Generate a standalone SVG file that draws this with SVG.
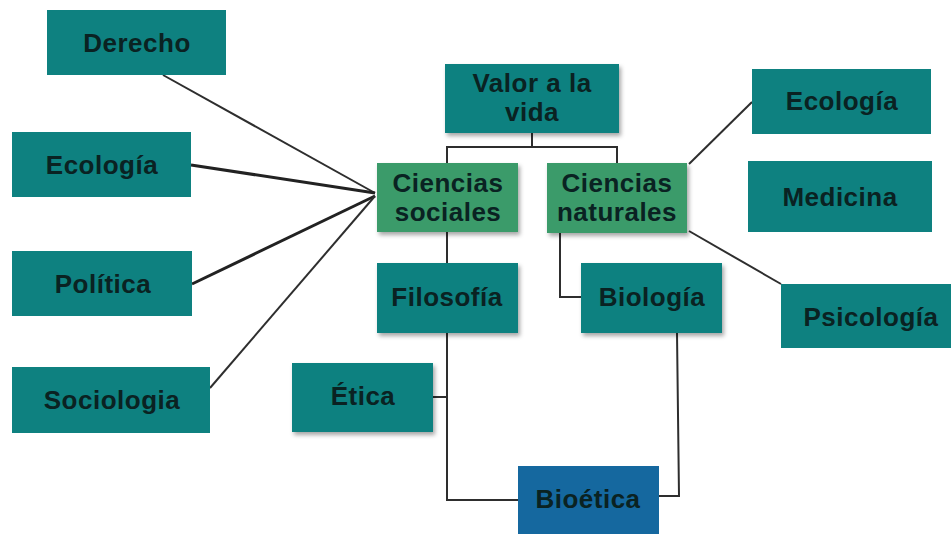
<svg xmlns="http://www.w3.org/2000/svg" width="951" height="534" viewBox="0 0 951 534">
<style>
.teal{fill:#0E8180}
.green{fill:#3A9B6B}
.blue{fill:#15689F}
text{font-family:"Liberation Sans",Arial,sans-serif;font-weight:bold;font-size:26px;letter-spacing:0.5px;fill:#0A2222;text-anchor:middle}
.ln{stroke:#2E2E2E;stroke-width:2;fill:none}
.lnb{stroke:#222;stroke-width:3;fill:none}
</style>
<defs>
<filter id="sh" x="-10%" y="-10%" width="130%" height="130%">
<feDropShadow dx="2" dy="3" stdDeviation="2" flood-color="#000" flood-opacity="0.35"/>
</filter>
</defs>
<rect width="951" height="534" fill="#fff"/>
<g id="connectors">
<polyline class="ln" points="532,133 532,147"/>
<polyline class="ln" points="447,163 447,147 617,147 617,163"/>
<line class="ln" x1="163" y1="75" x2="375" y2="193"/>
<line class="lnb" x1="191" y1="165" x2="375" y2="193"/>
<line class="lnb" x1="192" y1="284" x2="375" y2="196"/>
<line class="ln" x1="210" y1="388" x2="375" y2="196"/>
<line class="ln" x1="689" y1="164" x2="752" y2="102"/>
<line class="ln" x1="689" y1="231" x2="781" y2="284"/>
<line class="ln" x1="447" y1="232" x2="447" y2="263"/>
<polyline class="ln" points="560,233 560,297 581,297"/>
<polyline class="ln" points="447,333 447,500 518,500"/>
<line class="ln" x1="433" y1="397" x2="447" y2="397"/>
<polyline class="ln" points="677,333 679,496 659,496"/>
</g>
<g id="derecho"><rect class="teal" x="47" y="10" width="179" height="65"/><text x="137" y="52">Derecho</text></g>
<g id="ecologia-izq"><rect class="teal" x="12" y="132" width="179" height="65"/><text x="102" y="174">Ecología</text></g>
<g id="politica"><rect class="teal" x="12" y="251" width="180" height="65"/><text x="103" y="293">Política</text></g>
<g id="sociologia"><rect class="teal" x="12" y="367" width="198" height="66"/><text x="112" y="409">Sociologia</text></g>
<g id="valor"><rect class="teal" x="445" y="64" width="174" height="69" filter="url(#sh)"/><text x="532" y="92">Valor a la</text><text x="532" y="121">vida</text></g>
<g id="ciencias-sociales"><rect class="green" x="377" y="163" width="141" height="69" filter="url(#sh)"/><text x="448" y="192">Ciencias</text><text x="448" y="221">sociales</text></g>
<g id="ciencias-naturales"><rect class="green" x="547" y="163" width="140" height="70" filter="url(#sh)"/><text x="617" y="192">Ciencias</text><text x="617" y="221">naturales</text></g>
<g id="ecologia-der"><rect class="teal" x="752" y="69" width="179" height="65"/><text x="842" y="110">Ecología</text></g>
<g id="medicina"><rect class="teal" x="748" y="161" width="184" height="71"/><text x="840" y="206">Medicina</text></g>
<g id="psicologia"><rect class="teal" x="781" y="284" width="170" height="64"/><text x="871" y="326">Psicología</text></g>
<g id="filosofia"><rect class="teal" x="377" y="263" width="141" height="70" filter="url(#sh)"/><text x="447" y="306">Filosofía</text></g>
<g id="biologia"><rect class="teal" x="581" y="263" width="141" height="70" filter="url(#sh)"/><text x="652" y="306">Biología</text></g>
<g id="etica"><rect class="teal" x="292" y="363" width="141" height="69" filter="url(#sh)"/><text x="363" y="405">Ética</text></g>
<g id="bioetica"><rect class="blue" x="518" y="466" width="141" height="68"/><text x="588" y="508">Bioética</text></g>
</svg>
